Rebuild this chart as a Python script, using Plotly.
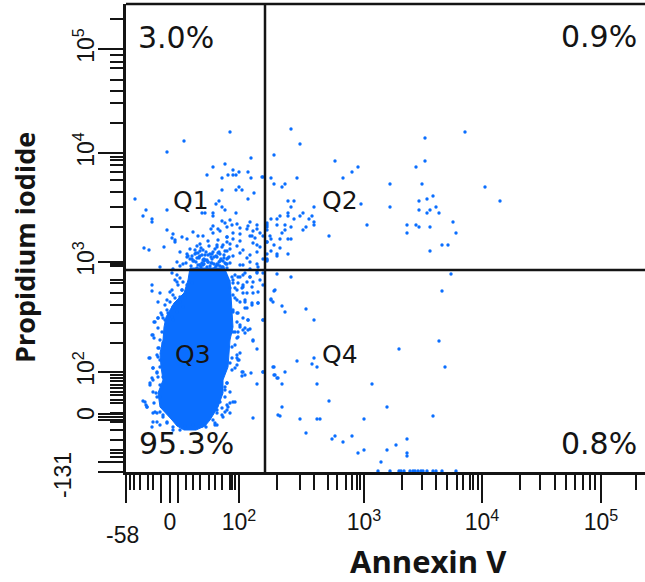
import plotly.graph_objects as go

# Values in display channels of the biexponential cytometer scale.
BLUE = "#0A6EFF"
INK = "#141414"
X_SPAN = 519
Y_SPAN = 468

x_major = [0, 35, 44, 52, 113, 238, 356, 475]
x_major_text = ["", "", "0", "", "10<sup>2</sup>", "10<sup>3</sup>", "10<sup>4</sup>", "10<sup>5</sup>"]
x_minor = [4, 8, 14, 22, 27, 60, 67, 74, 83, 89, 96, 104, 106, 109, 151, 174, 188, 202, 211, 220, 226, 231, 234,
           276, 296, 310, 321, 331, 337, 344, 347, 352, 394, 414, 429, 440, 449, 457, 464, 469, 510]
y_major = [0, 10, 52, 55, 58, 100, 210, 319, 423]
y_major_text = ["", "", "", "0", "", "10<sup>2</sup>", "10<sup>3</sup>", "10<sup>4</sup>", "10<sup>5</sup>"]
y_minor = [15, 19, 22, 32, 42, 50, 59, 69, 72, 77, 80, 84, 87, 91, 94, 97, 129, 149, 167, 179, 189, 192, 206, 208,
           245, 265, 280, 292, 300, 307, 312, 315, 349, 369, 381, 392, 404, 410, 417, 453]

gate_annexin = 139
gate_pi = 202

# Outline of the saturated Q3 population
core_x = [104, 106, 107, 104, 102, 97, 97, 92, 84, 79, 70, 58, 51, 46, 34, 32, 37, 35, 34, 37, 38, 40, 48, 58, 62, 64, 99]
core_y = [192, 155, 145, 132, 105, 92, 79, 65, 52, 46, 42, 42, 46, 52, 65, 79, 92, 105, 119, 132, 145, 155, 169, 179, 192, 204, 204]

# Q2 and the cells near the gate
q2_x = [165, 174, 148, 209, 232, 226, 217, 145, 137, 171, 148, 159, 156, 162, 168, 165, 188, 235, 177, 174, 162, 162,
        154, 145, 151, 168, 183, 186, 188, 188, 141, 141, 151, 159, 165, 180, 177, 159, 156, 141, 137, 145, 154, 162,
        165, 203, 141, 148, 154, 145, 151, 151, 162, 141, 137, 141, 241, 264, 264, 290, 299, 299, 339, 296, 359, 374,
        307, 301, 293, 293, 304, 310, 313, 301, 281, 290, 293, 304, 327, 330, 281, 316, 322, 304]
q2_y = [343, 328, 317, 311, 305, 300, 294, 294, 295, 294, 288, 288, 285, 271, 271, 265, 265, 268, 259, 256, 259, 256,
        256, 253, 253, 253, 253, 256, 250, 247, 249, 247, 247, 247, 245, 245, 242, 242, 239, 242, 236, 233, 233, 233,
        233, 236, 230, 227, 224, 221, 218, 216, 218, 218, 213, 213, 247, 288, 265, 305, 311, 334, 340, 288, 285, 271,
        276, 273, 271, 262, 262, 265, 259, 259, 247, 247, 245, 245, 250, 239, 239, 227, 227, 221]

# Q4
q4_x = [325, 316, 151, 165, 148, 145, 137, 137, 145, 156, 159, 180, 188, 137, 313, 273, 171, 188, 186, 191, 148, 159,
        137, 148, 151, 156, 191, 246, 319, 203, 156, 261, 154, 174, 191, 194, 238, 307, 180, 209, 206, 226, 217, 281,
        270, 261, 238, 232, 281, 281, 255, 252, 264, 273, 275, 278, 284, 287, 289, 292, 295, 297, 301, 307, 310, 316, 330]
q4_y = [198, 181, 198, 195, 181, 173, 199, 187, 172, 166, 160, 163, 152, 152, 131, 123, 111, 114, 108, 105, 105, 100,
        100, 97, 94, 88, 88, 88, 105, 71, 65, 65, 56, 53, 53, 53, 53, 56, 39, 36, 33, 36, 30, 33,
        27, 22, 22, 19, 19, 16, 10, 1, 1, 1, 1, 1, 1, 1, 1, 1, 1, 1, 1, 1, 1, 1, 1]

# Q1, sparse upper part
q1_x = [104, 58, 41, 125, 87, 99, 81, 96, 102, 107, 107, 113, 110, 122, 125, 136, 96, 113, 110, 116, 128, 122, 9, 93,
        90, 20, 41, 17, 26, 26, 76, 79, 87, 96, 99, 110, 87]
q1_y = [340, 331, 320, 314, 305, 308, 297, 294, 297, 302, 297, 300, 297, 300, 294, 295, 282, 285, 282, 282, 279, 273,
        273, 271, 268, 262, 262, 256, 253, 250, 259, 259, 259, 265, 262, 259, 256]

# Band just above and below the horizontal gate
band_x = [96, 99, 104, 111, 124, 131, 87, 92, 101, 106, 114, 122, 131, 141, 41, 67, 85, 94, 107, 121, 127,
          47, 77, 87, 101, 114, 124, 134, 144, 46, 49, 56, 61, 72, 92, 101, 107, 126, 129,
          49, 74, 82, 91, 101, 104, 114, 127, 131, 141, 18, 23, 38, 64, 71, 77, 91, 97, 104, 111, 117, 134,
          54, 61, 74, 79, 87, 94, 101, 114, 124, 131, 61, 66, 74, 81, 91, 101, 107, 121, 141,
          51, 57, 67, 74, 82, 91, 97, 104, 114, 124, 131, 141, 34, 47, 54, 71, 77, 84, 94, 101, 117, 124, 132,
          69, 72, 75, 80, 83, 86, 89, 93, 96, 99, 66, 70, 73, 76, 79, 84, 88, 92, 95, 98, 103,
          68, 71, 76, 78, 82, 85, 88, 95, 99, 102, 72, 75, 78, 84, 86, 89, 92, 96, 100,
          62, 64, 69, 73, 78, 82, 86, 90, 94, 98, 60, 65, 70, 74, 77, 81, 85, 90, 93, 97, 101]
band_y = [251, 249, 252, 248, 250, 247, 246, 243, 245, 247, 244, 246, 243, 245, 242, 240, 243, 241, 239, 243, 241,
          238, 236, 239, 235, 238, 236, 239, 236, 234, 232, 235, 233, 236, 232, 235, 233, 236, 234,
          230, 228, 231, 227, 230, 228, 231, 229, 227, 230, 224, 222, 225, 223, 226, 222, 225, 227, 223, 226, 222, 225,
          220, 218, 221, 217, 220, 218, 221, 219, 217, 220, 215, 213, 216, 212, 215, 213, 216, 214, 212,
          210, 208, 211, 207, 210, 208, 211, 209, 207, 210, 208, 211, 205, 203, 206, 204, 207, 203, 206, 204, 207, 203, 205,
          222, 219, 224, 220, 226, 218, 223, 220, 225, 221, 216, 219, 214, 217, 212, 218, 215, 219, 213, 217, 215,
          211, 214, 209, 213, 210, 215, 208, 212, 209, 214, 207, 205, 208, 206, 209, 204, 207, 205, 208,
          216, 213, 218, 215, 211, 217, 213, 216, 211, 214, 209, 206, 210, 207, 212, 205, 209, 206, 210, 205, 208]

# Speckle around the Q3 core
fringe_x = [26, 26, 34, 32, 41, 39, 49, 56, 51, 44, 54, 59, 62, 66, 47, 35, 42, 32, 28, 37, 26, 28, 32, 39, 42, 47,
            37, 33, 31, 23, 34, 27, 31, 26, 24, 37, 30, 17, 20, 21, 28, 34, 27, 31, 37, 31, 26, 41, 47, 54, 80, 89,
            107, 112, 117, 124, 131, 134, 126, 117, 111, 104, 117, 109, 114, 119, 126, 132, 121, 107, 111, 117, 122,
            114, 109, 117, 124, 112, 119, 127, 131, 109, 114, 111, 113, 106, 109, 117, 125, 116, 131, 101, 99, 107,
            104, 101, 96, 101, 91, 97, 104, 127, 87, 91, 149, 147, 152, 137, 152, 149, 147, 137]
fringe_y = [187, 181, 179, 170, 172, 167, 174, 182, 190, 180, 170, 177, 184, 189, 165, 159, 159, 154, 150, 154, 137, 134,
            144, 135, 145, 152, 129, 124, 117, 114, 112, 104, 99, 94, 87, 95, 79, 71, 67, 65, 69, 75, 59, 59, 55, 50, 45, 50, 42, 42, 45, 47,
            192, 195, 197, 195, 199, 192, 185, 185, 182, 184, 179, 174, 170, 172, 167, 169, 164, 160, 159, 154, 152,
            145, 140, 142, 143, 135, 139, 131, 123, 127, 119, 114, 112, 102, 104, 100, 99, 96, 88, 89, 82, 70,
            69, 67, 64, 62, 59, 55, 59, 54, 52, 47, 97, 105, 94, 100, 57, 182, 170, 152]

# Second reading of the speckle hugging the core edge
edge_left_x = [46, 51, 54, 49, 57, 52, 61, 46, 56, 62, 47, 54, 59, 44, 52, 47, 57, 41, 51, 46, 39, 32, 36, 29, 41, 36,
               27, 34, 37, 24, 32, 32, 27, 34, 31, 24, 27, 32, 34, 27, 31, 19, 21, 29, 34, 37, 27, 34, 41, 47, 59, 67, 76]
edge_left_y = [199, 197, 194, 192, 190, 187, 187, 182, 182, 180, 177, 175, 174, 170, 169, 164, 165, 162, 160, 155, 152,
               154, 157, 150, 147, 140, 137, 132, 127, 114, 124, 115, 104, 105, 100, 89, 92, 95, 87, 80, 75, 70, 65, 60,
               60, 57, 50, 47, 49, 45, 46, 47, 46]
edge_right_x = [106, 109, 114, 119, 124, 131, 107, 112, 117, 121, 127, 109, 116, 121, 127, 132, 107, 111, 119, 126, 132,
                107, 112, 119, 122, 111, 114, 119, 107, 112, 122, 111, 127, 106, 111, 106, 112, 116, 119, 104, 111, 101,
                99, 104, 99, 109, 94, 102, 91, 96, 99, 89]
edge_right_y = [195, 197, 195, 199, 195, 200, 189, 189, 187, 190, 190, 184, 184, 179, 179, 180, 177, 172, 170, 169, 169,
                162, 159, 164, 152, 150, 147, 144, 140, 140, 142, 134, 132, 125, 117, 114, 112, 100, 97, 109, 107, 89,
                85, 80, 75, 70, 70, 65, 62, 57, 60, 49]

dots_x = q2_x + q4_x + q1_x + band_x + fringe_x + edge_left_x + edge_right_x
dots_y = q2_y + q4_y + q1_y + band_y + fringe_y + edge_left_y + edge_right_y

fig = go.Figure()
fig.add_trace(go.Scatter(x=core_x, y=core_y, mode="lines", fill="toself", fillcolor=BLUE,
                         line=dict(color=BLUE, width=1), hoverinfo="skip", showlegend=False))
fig.add_trace(go.Scatter(x=dots_x, y=dots_y, mode="markers", cliponaxis=True,
                         marker=dict(color=BLUE, size=3.4, symbol="circle", line=dict(width=0)),
                         showlegend=False))

fig.add_shape(type="line", xref="x", yref="y", x0=gate_annexin, x1=gate_annexin, y0=0, y1=Y_SPAN,
              line=dict(color=INK, width=2.5))
fig.add_shape(type="line", xref="x", yref="y", x0=0, x1=X_SPAN, y0=gate_pi, y1=gate_pi,
              line=dict(color=INK, width=2.5))


def note(x, y, text, size, family="DejaVu Sans", angle=0, bold=False):
    fig.add_annotation(x=x / X_SPAN, y=y / Y_SPAN, xref="paper", yref="paper",
                       text=f"<b>{text}</b>" if bold else text, showarrow=False,
                       textangle=angle, font=dict(family=family, size=size, color=INK),
                       xanchor="center", yanchor="middle")


for x, y, t in [(50, 434, "3.0%"), (473, 435, "0.9%"), (60, 29, "95.3%"), (473, 29, "0.8%")]:
    note(x, y, t, 30)
for x, y, t in [(65, 271, "Q1"), (214, 271, "Q2"), (67, 118, "Q3"), (214, 118, "Q4")]:
    note(x, y, t, 25)
note(-4, -63, "-58", 23, "Liberation Sans")
note(-63, -3, "-131", 23, "Liberation Sans", angle=-90)
note(302, -89, "Annexin V", 31, "Open Sans", bold=True)
note(-101, 224, "Propidium iodide", 27, "Open Sans", angle=-90, bold=True)

tick_font = dict(family="Liberation Sans", size=23, color=INK)
fig.update_xaxes(range=[0, X_SPAN], tickmode="array", tickvals=x_major, ticktext=x_major_text, tickangle=0,
                 ticks="outside", ticklen=28, tickwidth=2, tickcolor=INK, tickfont=tick_font,
                 showline=True, linecolor=INK, linewidth=2.5, showgrid=False, zeroline=False,
                 minor=dict(tickmode="array", tickvals=x_minor, ticks="outside", ticklen=15, tickwidth=2,
                            tickcolor=INK, showgrid=False))
fig.update_yaxes(range=[0, Y_SPAN], tickmode="array", tickvals=y_major, ticktext=y_major_text, tickangle=-90,
                 ticks="outside", ticklen=25, tickwidth=2, tickcolor=INK, tickfont=tick_font,
                 ticklabelstandoff=-5,
                 showline=True, linecolor=INK, linewidth=2.5, showgrid=False, zeroline=False,
                 minor=dict(tickmode="array", tickvals=y_minor, ticks="outside", ticklen=13, tickwidth=2,
                            tickcolor=INK, showgrid=False))
fig.add_shape(type="line", xref="paper", yref="paper", x0=0, x1=1, y0=1, y1=1, line=dict(color=INK, width=2.5))
fig.update_layout(width=645, height=582, margin=dict(l=126, r=0, t=4, b=110), paper_bgcolor="white",
                  plot_bgcolor="white", showlegend=False)
fig.write_html("out.html", config=dict(displayModeBar=False),
               post_script="document.body.style.margin='0';document.body.style.overflow='hidden';")
